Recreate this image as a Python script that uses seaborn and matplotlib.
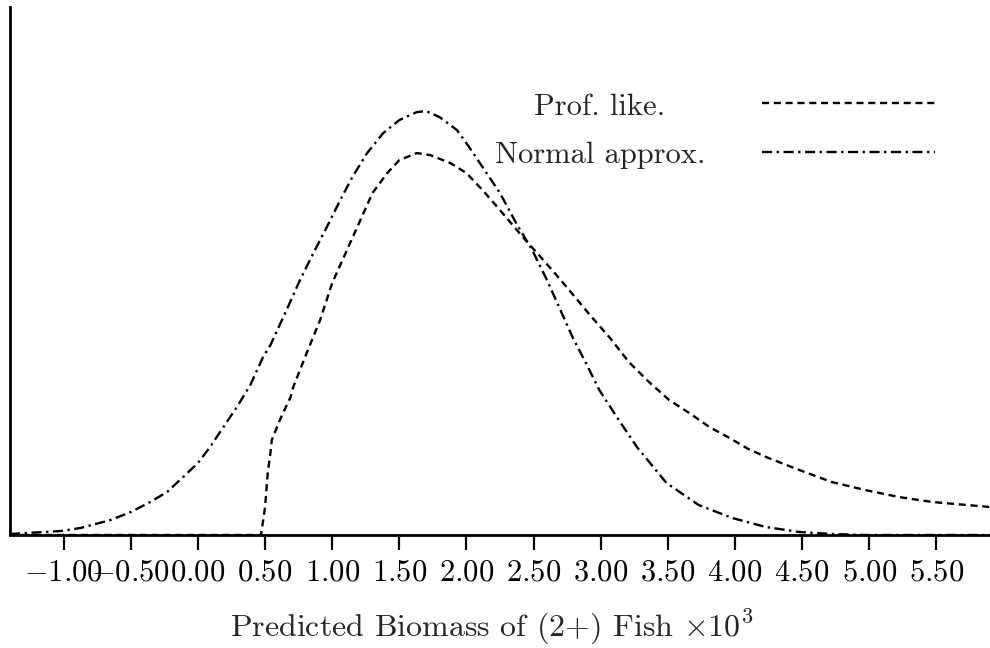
import matplotlib
matplotlib.use('Agg')
import pandas as pd
import matplotlib.pyplot as plt
import seaborn as sns

# values (biomass x10^3 vs relative likelihood)
norm_x = [-1.4, -1.02, -0.875, -0.65, -0.5, -0.355, -0.23, -0.11, 0.0, 0.09, 0.19, 0.29,
          0.39, 0.485, 0.54, 0.66, 0.76, 0.86, 0.96, 1.06, 1.15, 1.26, 1.38, 1.5,
          1.63, 1.70, 1.80, 1.93, 2.02, 2.12, 2.25, 2.37, 2.49, 2.6, 2.69, 2.79,
          2.89, 2.99, 3.12, 3.27, 3.49, 3.73, 3.98, 4.23, 4.48, 4.72, 4.97, 5.9]
norm_y = [0.001, 0.004, 0.007, 0.015, 0.023, 0.033, 0.043, 0.058, 0.072, 0.088, 0.108, 0.128,
          0.150, 0.178, 0.190, 0.225, 0.255, 0.282, 0.308, 0.335, 0.358, 0.382, 0.402, 0.415,
          0.423, 0.424, 0.418, 0.405, 0.388, 0.368, 0.342, 0.312, 0.285, 0.255, 0.228, 0.198,
          0.172, 0.145, 0.118, 0.088, 0.052, 0.030, 0.017, 0.008, 0.003, 0.001, 0.0, 0.0]

prof_x = [-1.4, 0.0, 0.47, 0.50, 0.52, 0.54, 0.55, 0.61, 0.69, 0.71, 0.81, 0.91,
          1.0, 1.11, 1.21, 1.30, 1.41, 1.5, 1.63, 1.73, 1.88, 2.0, 2.12, 2.25,
          2.42, 2.54, 2.69, 2.84, 2.92, 3.07, 3.21, 3.36, 3.51, 3.66, 3.81, 3.96,
          4.1, 4.25, 4.48, 4.72, 4.97, 5.22, 5.47, 5.9]
prof_y = [0.0, 0.0, 0.0, 0.028, 0.062, 0.082, 0.095, 0.115, 0.138, 0.148, 0.182, 0.215,
          0.252, 0.285, 0.315, 0.342, 0.362, 0.375, 0.382, 0.380, 0.372, 0.362, 0.345, 0.325,
          0.298, 0.280, 0.257, 0.233, 0.220, 0.197, 0.173, 0.153, 0.135, 0.122, 0.108, 0.097,
          0.086, 0.077, 0.065, 0.053, 0.045, 0.038, 0.033, 0.028]

tick_vals = [-1.0, -0.5, 0.0, 0.5, 1.0, 1.5, 2.0, 2.5, 3.0, 3.5, 4.0, 4.5, 5.0, 5.5]
tick_labels = ['$-1.00$', '$-0.50$', '$0.00$', '$0.50$', '$1.00$', '$1.50$', '$2.00$',
               '$2.50$', '$3.00$', '$3.50$', '$4.00$', '$4.50$', '$5.00$', '$5.50$']

sns.set_theme(style='ticks')
plt.rcParams['font.family'] = ['cmr10', 'DejaVu Serif']
plt.rcParams['mathtext.fontset'] = 'cm'
plt.rcParams['axes.formatter.use_mathtext'] = True

df_prof = pd.DataFrame({'x': prof_x, 'y': prof_y})
df_norm = pd.DataFrame({'x': norm_x, 'y': norm_y})

fig = plt.figure(figsize=(9.9, 6.48), dpi=100)
ax = fig.add_axes([0.0101, 0.1744, 0.9899, 0.8146])

dash = (0, (3, 2))
dashdot = (0, (4.3, 1.9, 1.0, 1.9))
lw = 1.7
sns.lineplot(data=df_prof, x='x', y='y', ax=ax, color='black', lw=lw, linestyle=dash)
sns.lineplot(data=df_norm, x='x', y='y', ax=ax, color='black', lw=lw, linestyle=dashdot)

ax.set_xlim(-1.4, 5.9)
ax.set_ylim(0, 0.528)
ax.set_xticks(tick_vals)
ax.set_xticklabels(tick_labels, fontsize=22)
ax.set_yticks([])
ax.set_ylabel('')
ax.set_xlabel('Predicted Biomass of (2+) Fish $\\times 10^3$', fontsize=23, labelpad=16)
ax.xaxis.label.set_x(0.492)
ax.tick_params(axis='x', direction='out', length=11, width=1.6, pad=6, colors='black')

sns.despine(ax=ax)
for s in ['left', 'bottom']:
    ax.spines[s].set_linewidth(2)
    ax.spines[s].set_color('black')

# legend drawn by hand: centred labels with line samples on the right
ax.text(0.602, 0.795, 'Prof. like.', transform=ax.transAxes, ha='center', va='baseline', fontsize=22)
ax.text(0.602, 0.705, 'Normal approx.', transform=ax.transAxes, ha='center', va='baseline', fontsize=22)
ax.plot([0.767, 0.944], [0.818, 0.818], transform=ax.transAxes, color='black', lw=lw, linestyle=dash)
ax.plot([0.767, 0.944], [0.725, 0.725], transform=ax.transAxes, color='black', lw=lw, linestyle=dashdot)

fig.savefig('out.png', dpi=100)
